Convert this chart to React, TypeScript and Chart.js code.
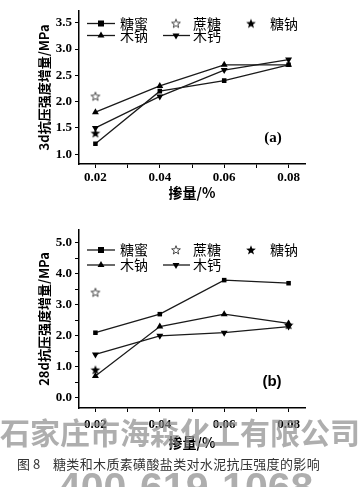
import React, { useEffect, useRef } from "react";
import { Chart, registerables } from "chart.js";

Chart.register(...registerables);

// ---------- data ----------
const doses = [0.02, 0.04, 0.06, 0.08];
const seriesNames = ["糖蜜", "蔗糖", "糖钠", "木钠", "木钙"];

const molasses3d = [1.2, 2.2, 2.4, 2.7];
const sucrose3d = [2.1, null, null, null];
const gluconate3d = [1.4, null, null, null];
const ligninNa3d = [1.8, 2.3, 2.7, 2.7];
const ligninCa3d = [1.5, 2.1, 2.6, 2.8];

const molasses28d = [2.1, 2.7, 3.8, 3.7];
const sucrose28d = [3.4, null, null, null];
const gluconate28d = [0.9, null, null, 2.35];
const ligninNa28d = [0.7, 2.3, 2.7, 2.4];
const ligninCa28d = [1.4, 2.0, 2.1, 2.3];

const xTickValues = [0.02, 0.03, 0.04, 0.05, 0.06, 0.07, 0.08];
const xTickLabels = ["0.02", "0.04", "0.06", "0.08"];
const yTicks3d = [1.0, 1.5, 2.0, 2.5, 3.0, 3.5];
const yLabels3d = ["1.0", "1.5", "2.0", "2.5", "3.0", "3.5"];
const yTicks28d = [0, 0.5, 1, 1.5, 2, 2.5, 3, 3.5, 4, 4.5, 5];
const yLabels28d = ["0.0", "1.0", "2.0", "3.0", "4.0", "5.0"];

const xTitle = "掺量/%";
const yTitle3d = "3d抗压强度增量/MPa";
const yTitle28d = "28d抗压强度增量/MPa";
const caption = "图 8";
const captionText = "糖类和木质素磺酸盐类对水泥抗压强度的影响";
const watermark1 = "石家庄市海森化工有限公司";
const watermark2 = "400-619-1068";

// ---------- helpers ----------
function toPoints(arr: (number | null)[]) {
  const out: { x: number; y: number }[] = [];
  arr.forEach((y, i) => {
    if (y !== null && y !== undefined) out.push({ x: doses[i], y });
  });
  return out;
}

function makeStar(filled: boolean): HTMLCanvasElement {
  const c = document.createElement("canvas");
  c.width = 12;
  c.height = 12;
  const ctx = c.getContext("2d")!;
  const cx = 6, cy = 6.3;
  const R = filled ? 5.1 : 4.6;
  const r = filled ? 2.1 : 1.9;
  ctx.beginPath();
  for (let i = 0; i < 10; i++) {
    const ang = -Math.PI / 2 + (i * Math.PI) / 5;
    const rad = i % 2 === 0 ? R : r;
    const px = cx + Math.cos(ang) * rad;
    const py = cy + Math.sin(ang) * rad;
    if (i === 0) ctx.moveTo(px, py);
    else ctx.lineTo(px, py);
  }
  ctx.closePath();
  if (filled) {
    ctx.fillStyle = "#000";
    ctx.fill();
  } else {
    ctx.fillStyle = "#fff";
    ctx.fill();
    ctx.strokeStyle = "#333";
    ctx.lineWidth = 0.9;
    ctx.stroke();
  }
  return c;
}

function drawTri(ctx: CanvasRenderingContext2D, x: number, y: number, r: number, down: boolean) {
  ctx.beginPath();
  for (let i = 0; i < 3; i++) {
    const a = (down ? Math.PI : 0) + (i * 2 * Math.PI) / 3;
    const px = x + Math.sin(a) * r;
    const py = y - Math.cos(a) * r;
    if (i === 0) ctx.moveTo(px, py);
    else ctx.lineTo(px, py);
  }
  ctx.closePath();
  ctx.fill();
}

type ChartCfg = {
  series: (number | null)[][];
  yTicks: number[];
  yLabels: string[];
  yMin: number;
  yMax: number;
  yTitle: string;
  height: number;
  padTop: number;
  axisBottom: number;
  xLabelPad: number;
  xTitlePad: number;
  legendRows: [number, number];
  tag: string;
  tagX: number;
  tagY: number;
  tagFont: string;
};

const cfg3d: ChartCfg = {
  series: [molasses3d, sucrose3d, gluconate3d, ligninNa3d, ligninCa3d],
  yTicks: yTicks3d,
  yLabels: yLabels3d,
  yMin: 0.814,
  yMax: 3.728,
  yTitle: yTitle3d,
  height: 215,
  padTop: 7,
  axisBottom: 164,
  xLabelPad: 2,
  xTitlePad: 13.6,
  legendRows: [23.5, 35.5],
  tag: "(a)",
  tagX: 273,
  tagY: 138,
  tagFont: "bold 15px 'Liberation Serif'",
};

const cfg28d: ChartCfg = {
  series: [molasses28d, sucrose28d, gluconate28d, ligninNa28d, ligninCa28d],
  yTicks: yTicks28d,
  yLabels: yLabels28d,
  yMin: -0.333,
  yMax: 5.42,
  yTitle: yTitle28d,
  height: 240,
  padTop: 15,
  axisBottom: 193,
  xLabelPad: 4.5,
  xTitlePad: 3.6,
  legendRows: [35, 50],
  tag: "(b)",
  tagX: 272,
  tagY: 167,
  tagFont: "bold 15px 'Liberation Sans'",
};

function ChartPanel({ cfg, top }: { cfg: ChartCfg; top: number }) {
  const ref = useRef<HTMLCanvasElement | null>(null);
  useEffect(() => {
    const canvas = ref.current;
    if (!canvas) return;
    const starOpen = makeStar(false);
    const starFilled = makeStar(true);
    const lineColor = "#1a1a1a";
    const [s0, s1, s2, s3, s4] = cfg.series;

    const legendPlugin = {
      id: "panelLegend",
      afterDraw(chart: any) {
        const ctx: CanvasRenderingContext2D = chart.ctx;
        ctx.save();
        ctx.fillStyle = "#000";
        ctx.strokeStyle = lineColor;
        ctx.lineWidth = 1.3;
        const [r1, r2] = cfg.legendRows;
        const line = (x1: number, x2: number, y: number) => {
          ctx.beginPath();
          ctx.moveTo(x1, y);
          ctx.lineTo(x2, y);
          ctx.stroke();
        };
        // row 1
        line(87, 115, r1);
        ctx.fillRect(101 - 3, r1 - 3, 6, 6);
        ctx.drawImage(starOpen, 176 - 6, r1 - 6);
        ctx.drawImage(starFilled, 251 - 6, r1 - 6);
        // row 2
        line(87, 115, r2);
        drawTri(ctx, 101, r2, 4, false);
        line(163, 190, r2);
        drawTri(ctx, 176, r2, 4, true);
        ctx.font = "14px 'Noto Sans CJK SC'";
        ctx.textBaseline = "middle";
        ctx.textAlign = "left";
        ctx.fillText(seriesNames[0], 120, r1);
        ctx.fillText(seriesNames[1], 193, r1);
        ctx.fillText(seriesNames[2], 270, r1);
        ctx.fillText(seriesNames[3], 120, r2);
        ctx.fillText(seriesNames[4], 193, r2);
        // tag
        ctx.font = cfg.tagFont;
        ctx.textAlign = "center";
        ctx.fillText(cfg.tag, cfg.tagX, cfg.tagY);
        ctx.restore();
      },
    };

    const base = {
      borderColor: lineColor,
      borderWidth: 1.3,
      pointBackgroundColor: "#000",
      pointBorderColor: "#000",
      pointBorderWidth: 0,
    };

    const chart = new Chart(canvas, {
      type: "line",
      data: {
        datasets: [
          { ...base, label: seriesNames[0], data: toPoints(s0), pointStyle: "rect", pointRadius: 3.2 },
          { ...base, label: seriesNames[1], data: toPoints(s1), showLine: false, pointStyle: starOpen as any, pointRadius: 6 },
          { ...base, label: seriesNames[2], data: toPoints(s2), showLine: false, pointStyle: starFilled as any, pointRadius: 6 },
          { ...base, label: seriesNames[3], data: toPoints(s3), pointStyle: "triangle", pointRadius: 4 },
          { ...base, label: seriesNames[4], data: toPoints(s4), pointStyle: "triangle", pointRotation: 180, pointRadius: 4 },
        ],
      },
      options: {
        animation: false,
        responsive: false,
        devicePixelRatio: 1,
        layout: { padding: { left: 0, right: 58, top: cfg.padTop, bottom: 0 } },
        plugins: { legend: { display: false }, tooltip: { enabled: false } },
        elements: { line: { tension: 0 } },
        scales: {
          x: {
            type: "linear",
            min: 0.0149,
            max: 0.0851,
            afterBuildTicks: (axis: any) => {
              axis.ticks = xTickValues.map((v) => ({ value: v }));
            },
            afterFit: (s: any) => {
              s.height = cfg.height - cfg.axisBottom;
            },
            grid: { drawOnChartArea: false, drawTicks: true, tickLength: 4, color: "#000", lineWidth: 1 },
            border: { display: true, color: "#000", width: 1.5 },
            ticks: {
              autoSkip: false,
              maxRotation: 0,
              padding: cfg.xLabelPad,
              color: "#000",
              font: { family: "'Liberation Serif'", weight: "bold", size: 13 },
              callback: (v: any) => {
                const idx = doses.findIndex((d) => Math.abs(d - v) < 1e-6);
                return idx >= 0 ? xTickLabels[idx] : "";
              },
            },
            title: {
              display: true,
              text: xTitle,
              color: "#000",
              font: { family: "'Noto Sans CJK SC'", weight: "bold", size: 14 },
              padding: { top: 0, bottom: cfg.xTitlePad },
            },
          },
          y: {
            type: "linear",
            min: cfg.yMin,
            max: cfg.yMax,
            afterBuildTicks: (axis: any) => {
              axis.ticks = cfg.yTicks.map((v) => ({ value: v }));
            },
            afterFit: (s: any) => {
              s.width = 79;
            },
            grid: { drawOnChartArea: false, drawTicks: true, tickLength: 4, color: "#000", lineWidth: 1 },
            border: { display: true, color: "#000", width: 1.5 },
            ticks: {
              autoSkip: false,
              padding: 3,
              color: "#000",
              font: { family: "'Liberation Serif'", weight: "bold", size: 13 },
              callback: (v: any) => {
                const lbl = cfg.yLabels.find((l) => Math.abs(parseFloat(l) - v) < 1e-6);
                return lbl ?? "";
              },
            },
            title: {
              display: true,
              text: cfg.yTitle,
              color: "#000",
              font: { family: "'Noto Sans CJK SC'", weight: "bold", size: 13 },
              padding: { top: 36, bottom: 0 },
            },
          },
        },
      },
      plugins: [legendPlugin],
    } as any);
    return () => chart.destroy();
  }, [cfg]);

  return (
    <canvas
      ref={ref}
      width={363}
      height={cfg.height}
      style={{ position: "absolute", left: 0, top, width: 363, height: cfg.height }}
    />
  );
}

export default function App() {
  return (
    <div
      style={{
        position: "fixed",
        left: 0,
        top: 0,
        width: 363,
        height: 487,
        background: "#fff",
        overflow: "hidden",
      }}
    >
      <ChartPanel cfg={cfg3d} top={0} />
      <ChartPanel cfg={cfg28d} top={215} />
      <div
        style={{
          position: "absolute",
          left: 17,
          top: 455,
          height: 18,
          lineHeight: "18px",
          fontFamily: "'Noto Sans CJK SC'",
          fontSize: 13,
          color: "#333",
          whiteSpace: "nowrap",
        }}
      >
        {caption}
      </div>
      <div
        style={{
          position: "absolute",
          left: 53,
          top: 455,
          height: 18,
          lineHeight: "18px",
          fontFamily: "'Noto Sans CJK SC'",
          fontSize: 13,
          letterSpacing: "0.35px",
          color: "#333",
          whiteSpace: "nowrap",
        }}
      >
        {captionText}
      </div>
      <div
        style={{
          position: "absolute",
          left: 0,
          top: 416,
          width: 363,
          height: 30,
          lineHeight: "30px",
          fontFamily: "'Noto Sans CJK SC'",
          fontWeight: 700,
          fontSize: 30,
          color: "rgba(140,140,140,0.7)",
          whiteSpace: "nowrap",
        }}
      >
        {watermark1}
      </div>
      <div
        style={{
          position: "absolute",
          left: 58,
          top: 467,
          height: 40,
          lineHeight: "40px",
          fontFamily: "'Liberation Sans'",
          fontWeight: 700,
          fontSize: 41,
          color: "rgba(140,140,140,0.7)",
          whiteSpace: "nowrap",
        }}
      >
        {watermark2}
      </div>
    </div>
  );
}
